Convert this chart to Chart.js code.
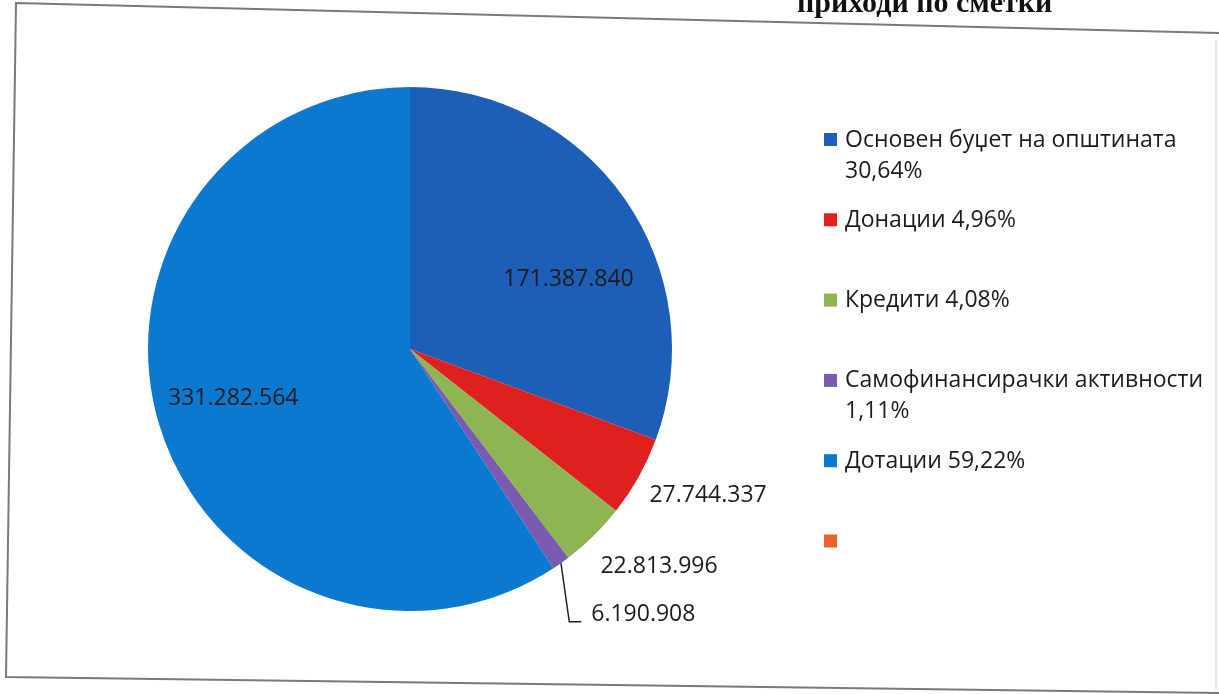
<!DOCTYPE html>
<html>
<head>
<meta charset="utf-8">
<script src="https://cdn.jsdelivr.net/npm/chart.js@4.4.0/dist/chart.umd.min.js"></script>
<style>
  body { margin: 0; background: #fff; }
  #wrap { width: 1219px; height: 694px; }
</style>
</head>
<body>
<div id="wrap"><canvas id="pie" width="1219" height="694"></canvas></div>
<script>
'use strict';

// Податоци
const categories = ['Основен буџет на општината', 'Донации', 'Кредити', 'Самофинансирачки активности', 'Дотации', ''];
const values = [171387840, 27744337, 22813996, 6190908, 331282564, 0];
const shares = ['30,64%', '4,96%', '4,08%', '1,11%', '59,22%', ''];
const colors = ['#1d5fb6', '#e0201f', '#8db552', '#7a5bb0', '#0a79cf', '#e8622a'];
const titleText = 'приходи по сметки';

// поместување на ознаките (агол во степени, фактор на радиус)
const labelPlace = [
  { da: 11.3, rf: 0.66 },
  { da: -3.1, rf: 1.267 },
  { da: -4.3, rf: 1.263 },
  { da: -6.1, rf: 1.35, leader: true },
  { da: 1.1, rf: 0.70 },
  null,
];

const FONT = '"Open Sans", "Noto Sans", sans-serif';
const fmt = v => v.toLocaleString('de-DE');

const extras = {
  id: 'extras',
  afterDraw(chart) {
    const ctx = chart.ctx;
    ctx.save();

    // рамка (скенирана, малку искосена)
    ctx.strokeStyle = '#7a7a7a';
    ctx.lineWidth = 2;
    ctx.beginPath();
    ctx.moveTo(1219, 33);
    ctx.lineTo(16, 3);
    ctx.lineTo(6, 677);
    ctx.lineTo(1219, 693);
    ctx.stroke();
    ctx.strokeStyle = '#cfcfcf';
    ctx.lineWidth = 1;
    ctx.beginPath();
    ctx.moveTo(1216, 40);
    ctx.lineTo(1216, 690);
    ctx.stroke();

    // наслов (отсечен)
    ctx.fillStyle = '#111';
    ctx.font = 'bold 30px "Liberation Serif", serif';
    ctx.textAlign = 'left';
    ctx.textBaseline = 'alphabetic';
    ctx.fillText(titleText, 797, 12);

    // ознаки на вредностите
    const meta = chart.getDatasetMeta(0);
    ctx.font = '23px ' + FONT;
    ctx.fillStyle = '#1c1c1c';
    ctx.textBaseline = 'middle';
    meta.data.forEach((arc, i) => {
      const p = labelPlace[i];
      if (!p || !values[i]) return;
      const mid = (arc.startAngle + arc.endAngle) / 2;
      const ang = mid + p.da * Math.PI / 180;
      const r = arc.outerRadius * p.rf;
      const x = arc.x + Math.cos(ang) * r;
      const y = arc.y + Math.sin(ang) * r;
      const txt = fmt(values[i]);
      ctx.textAlign = 'center';
      ctx.fillText(txt, x, y);
      if (p.leader) {
        const left = x - ctx.measureText(txt).width / 2;
        ctx.strokeStyle = '#222';
        ctx.lineWidth = 1.5;
        ctx.beginPath();
        ctx.moveTo(arc.x + Math.cos(mid) * arc.outerRadius, arc.y + Math.sin(mid) * arc.outerRadius);
        ctx.lineTo(left - 22, y + 7);
        ctx.lineTo(left - 10, y + 7);
        ctx.stroke();
      }
    });

    // легенда
    const lx = 824, maxW = 360;
    ctx.font = '23px ' + FONT;
    ctx.textAlign = 'left';
    categories.forEach((name, i) => {
      const y = 140 + i * 80.3;
      ctx.fillStyle = colors[i];
      ctx.fillRect(lx, y - 7, 13, 13);
      if (!name) return;
      ctx.fillStyle = '#1c1c1c';
      const full = name + ' ' + shares[i];
      if (ctx.measureText(full).width > maxW) {
        ctx.fillText(name, lx + 21, y);
        ctx.fillText(shares[i], lx + 21, y + 31);
      } else {
        ctx.fillText(full, lx + 21, y);
      }
    });

    ctx.restore();
  },
};

new Chart(document.getElementById('pie'), {
  type: 'pie',
  data: {
    labels: categories,
    datasets: [
      {
        data: values,
        backgroundColor: colors,
        borderWidth: 0,
      },
    ],
  },
  options: {
    responsive: false,
    animation: false,
    layout: { padding: { top: 86, bottom: 82, left: 148, right: 547 } },
    plugins: {
      legend: { display: false },
      tooltip: { enabled: false },
    },
  },
  plugins: [extras],
});
</script>
</body>
</html>
